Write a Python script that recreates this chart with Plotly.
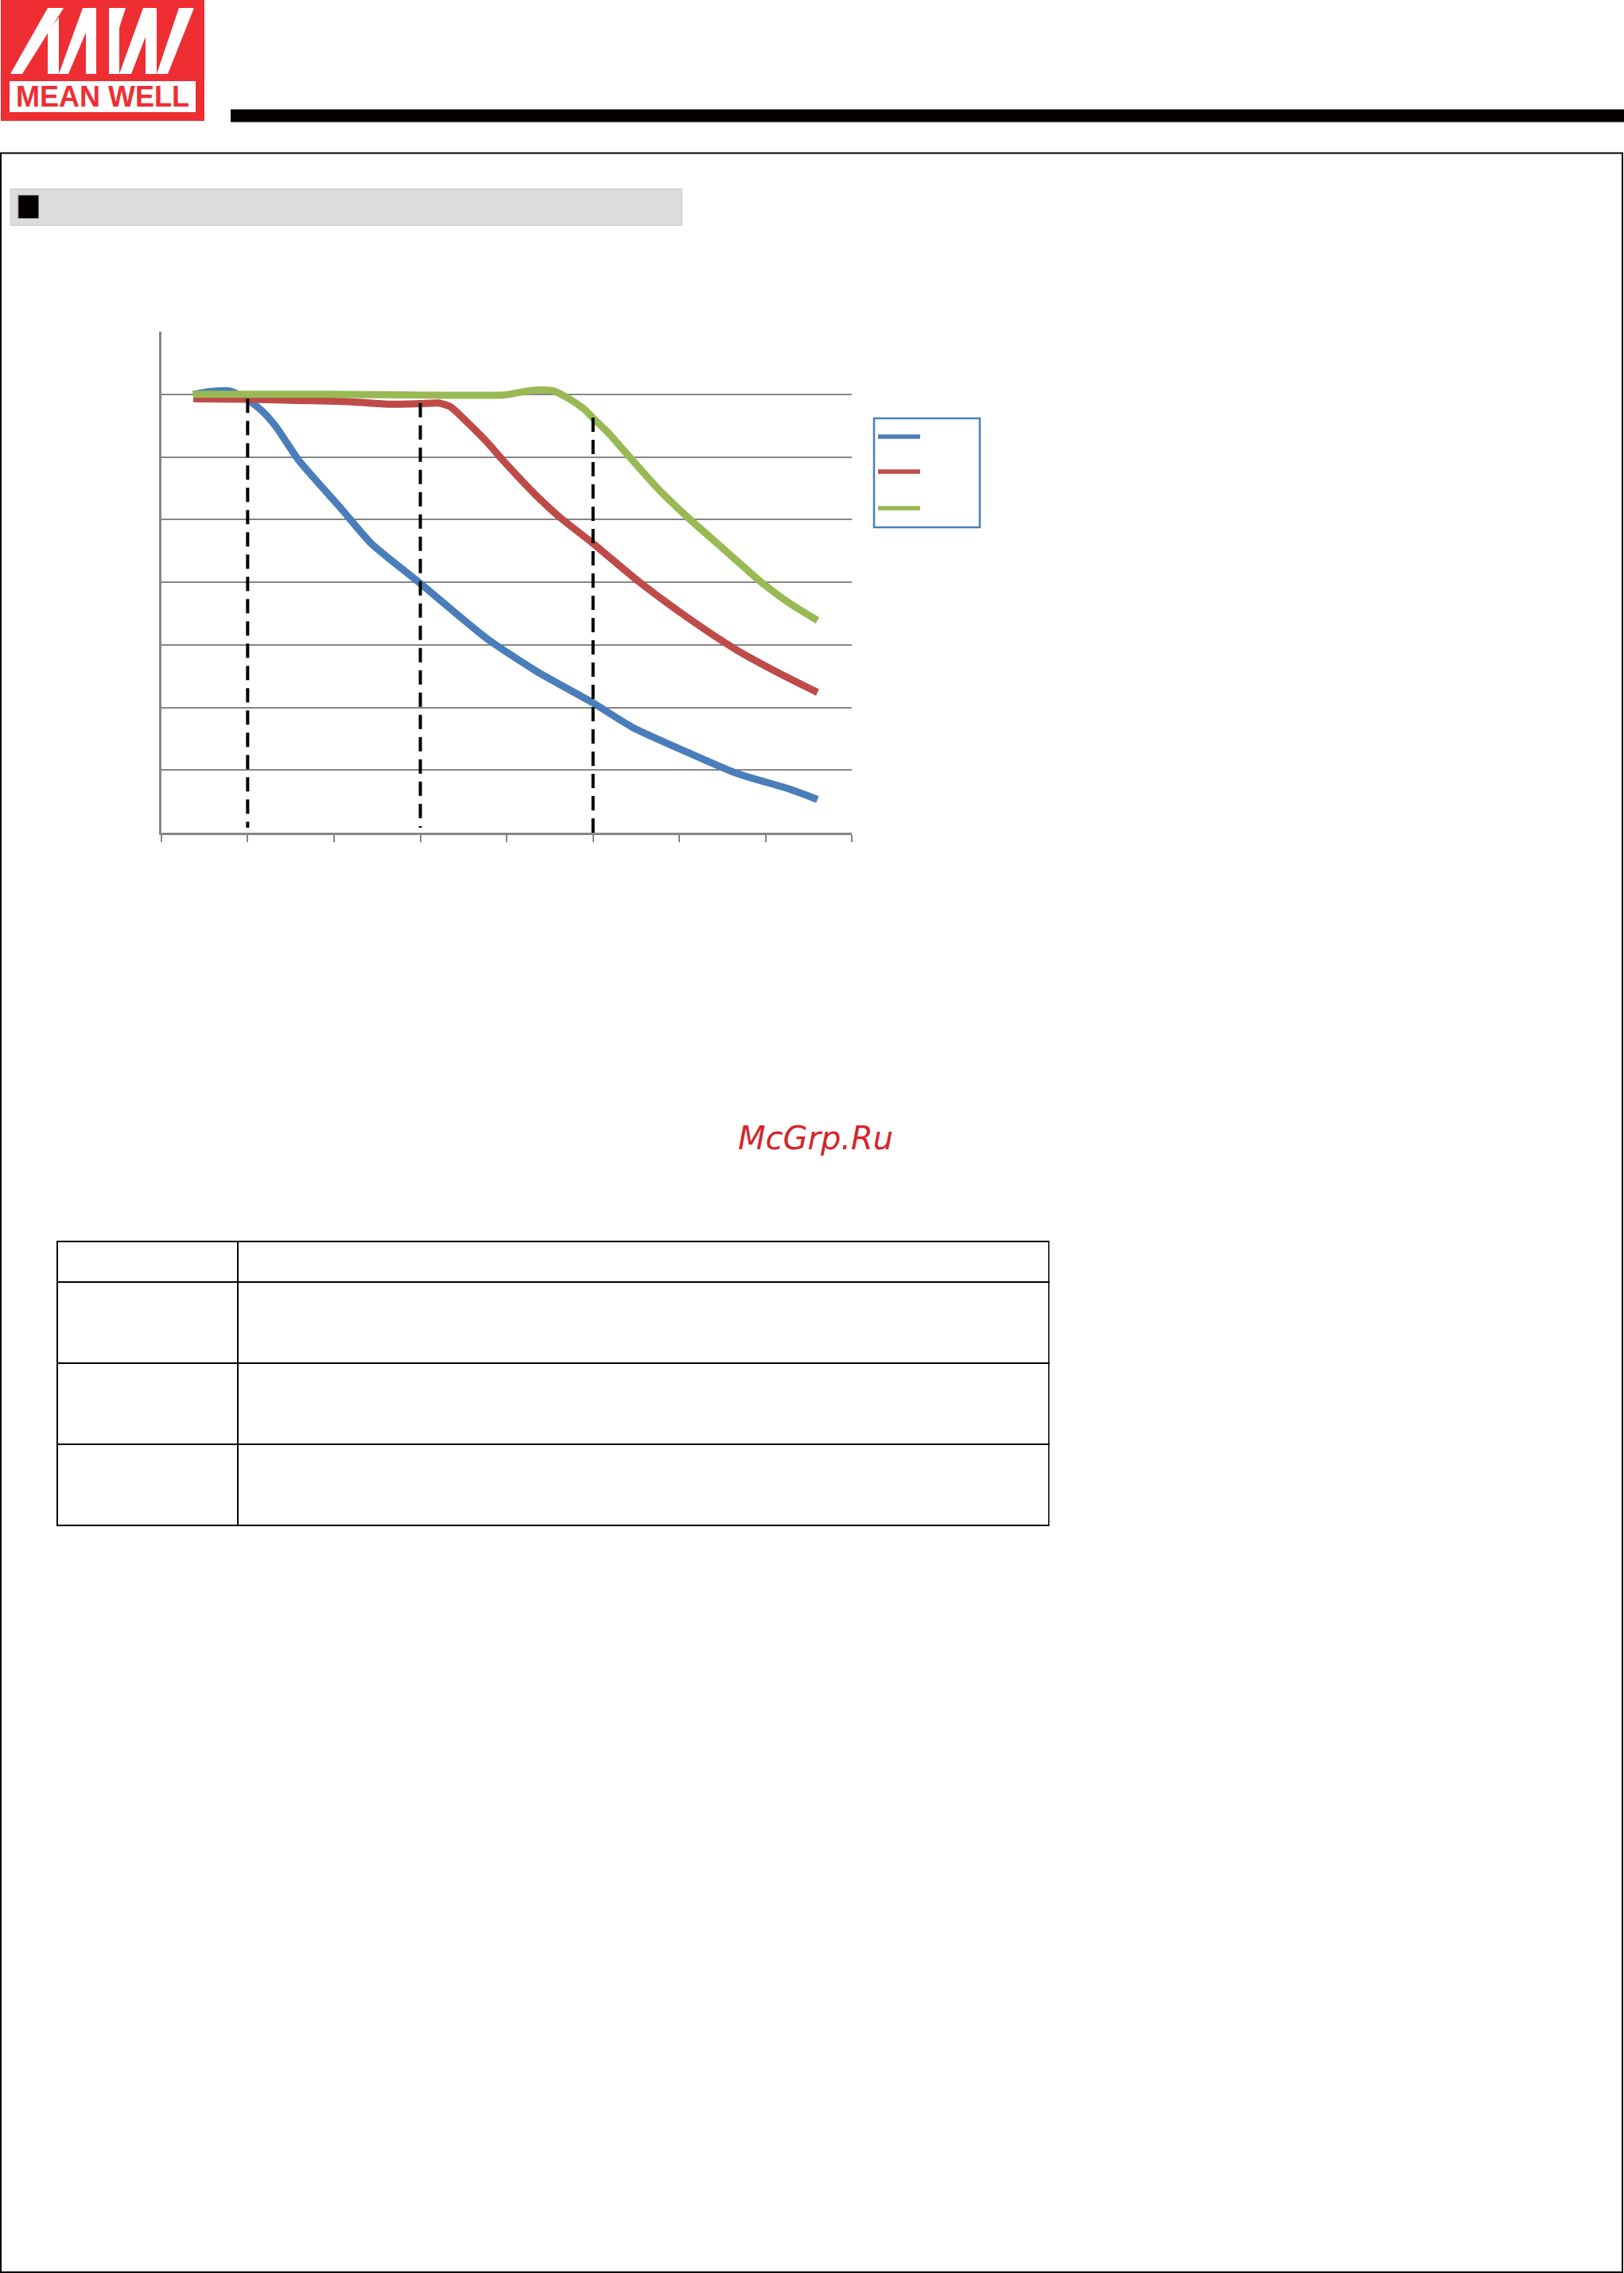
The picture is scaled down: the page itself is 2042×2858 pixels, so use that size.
import plotly.graph_objects as go

W, H = 2042, 2858

# ---- data (axis units = tick / gridline steps) ----
blue_x = [0.37, 0.55, 0.80, 0.99, 1.17, 1.33, 1.59, 2.08, 2.43, 2.99, 3.77, 4.33, 4.99, 5.46, 6.10, 6.66, 7.29, 7.60]
blue_y = [7.00, 7.04, 7.05, 6.92, 6.73, 6.48, 5.95, 5.18, 4.62, 3.99, 3.10, 2.59, 2.08, 1.68, 1.28, 0.95, 0.69, 0.53]

red_x = [0.37, 1.00, 1.66, 2.20, 2.64, 2.99, 3.21, 3.35, 3.56, 3.77, 3.98, 4.33, 4.62, 4.99, 5.53, 6.10, 6.66, 7.15, 7.60]
red_y = [6.93, 6.92, 6.90, 6.88, 6.84, 6.85, 6.86, 6.80, 6.53, 6.24, 5.91, 5.40, 5.03, 4.63, 4.01, 3.43, 2.92, 2.55, 2.24]

green_x = [0.37, 2.00, 3.98, 4.19, 4.40, 4.55, 4.72, 4.90, 5.00, 5.18, 5.39, 5.74, 6.10, 6.52, 6.94, 7.29, 7.60]
green_y = [7.00, 7.00, 6.99, 7.04, 7.07, 7.05, 6.93, 6.76, 6.62, 6.38, 6.05, 5.51, 5.03, 4.52, 4.01, 3.65, 3.39]

# dashed marker lines: x position, top value, bottom value
mark_x = [1, 3, 5]
mark_top = [6.93, 6.86, 6.63]
mark_bottom = [0.08, 0.08, 0.0]

x_ticks = [0, 1, 2, 3, 4, 5, 6, 7, 8]
y_grid = [0, 1, 2, 3, 4, 5, 6, 7, 8]

series_colors = ["#4a7ebb", "#be4b48", "#98b954"]

# table (empty cells as in the reference)
table_col_widths = [227, 1020]
table_rows = 3

# ---- helpers: page pixel -> paper coords ----
def px(x):
    return x / W

def py(y):
    return 1 - y / H

fig = go.Figure()

for xs, ys, c in [(blue_x, blue_y, series_colors[0]),
                  (red_x, red_y, series_colors[1]),
                  (green_x, green_y, series_colors[2])]:
    fig.add_trace(go.Scatter(x=xs, y=ys, mode="lines",
                             line=dict(color=c, width=9, shape="spline", smoothing=0.6),
                             showlegend=False, hoverinfo="skip"))

for mx, t, b in zip(mark_x, mark_top, mark_bottom):
    fig.add_trace(go.Scatter(x=[mx, mx], y=[t, b], mode="lines",
                             line=dict(color="black", width=4, dash="18px,10px"),
                             showlegend=False, hoverinfo="skip"))

fig.add_trace(go.Table(
    domain=dict(x=[px(71.5), px(1319)], y=[py(1920), py(1560.5)]),
    columnwidth=table_col_widths,
    header=dict(values=["", ""], height=51, fill_color="white",
                line=dict(color="black", width=2)),
    cells=dict(values=[[""] * table_rows, [""] * table_rows], height=102,
               fill_color="white", line=dict(color="black", width=2)),
))

grid_col = "#868686"
fig.update_layout(
    width=W, height=H, margin=dict(l=0, r=0, t=0, b=0),
    paper_bgcolor="white", plot_bgcolor="white",
    xaxis=dict(domain=[px(202.8), px(1071.4)], range=[0, 8], tickvals=x_ticks,
               showticklabels=False, ticks="outside", ticklen=9, tickwidth=2,
               tickcolor=grid_col, showgrid=False, zeroline=False,
               showline=True, linecolor=grid_col, linewidth=2.5, fixedrange=True),
    yaxis=dict(domain=[py(1047), py(417)], range=[0, 8], tickvals=y_grid,
               showticklabels=False, ticks="", showgrid=True, gridcolor=grid_col,
               gridwidth=2, zeroline=False, showline=True, linecolor=grid_col,
               linewidth=2.5, fixedrange=True),
)

shapes = []
def rect(x0, y0, x1, y1, fill=None, line_color=None, lw=0):
    shapes.append(dict(type="rect", xref="paper", yref="paper",
                       x0=px(x0), x1=px(x1), y0=py(y1), y1=py(y0),
                       fillcolor=fill if fill else "rgba(0,0,0,0)",
                       line=dict(color=line_color if line_color else "rgba(0,0,0,0)", width=lw)))

def poly(pts, fill):
    d = "M " + " L ".join(f"{px(x):.6f},{py(y):.6f}" for x, y in pts) + " Z"
    shapes.append(dict(type="path", xref="paper", yref="paper", path=d,
                       fillcolor=fill, line=dict(width=0)))

def hline(x0, x1, y, color, lw):
    shapes.append(dict(type="line", xref="paper", yref="paper",
                       x0=px(x0), x1=px(x1), y0=py(y), y1=py(y),
                       line=dict(color=color, width=lw)))

# logo
red = "#ee2e33"
rect(1, 0, 257, 152, fill=red)
rect(12, 102, 246, 141, fill="white")
# M
poly([(13, 93), (28, 93), (80, 10), (60, 10)], "white")
poly([(60, 93), (74, 93), (74, 22), (60, 40)], "white")
poly([(74, 93), (86, 93), (121, 10), (104, 10)], "white")
poly([(108, 93), (121, 93), (121, 10), (108, 10)], "white")
# W
poly([(137, 93), (150, 93), (150, 35), (158, 10), (137, 10)], "white")
poly([(150, 93), (165, 93), (197, 10), (180, 10)], "white")
poly([(183, 93), (197, 93), (197, 10), (183, 45)], "white")
poly([(197, 93), (211, 93), (244, 10), (225, 10)], "white")

# header bar
rect(290, 137.5, 2042, 153.5, fill="#050000")
# page border
rect(1, 192.5, 2040, 2857, line_color="black", lw=2)
# section band
rect(13, 237.5, 857.5, 283.5, fill="#dcdcdc", line_color="#cccccc", lw=1)
rect(23, 245.5, 48.5, 274.5, fill="#050000", line_color="#777777", lw=1)

# legend box
rect(1099, 526, 1232, 663, fill="white", line_color="#4a7ebb", lw=2.5)
for yy, c in zip([549, 593, 639], series_colors):
    hline(1104, 1157, yy, c, 5.5)

fig.update_layout(shapes=shapes)

fig.add_annotation(xref="paper", yref="paper", x=px(129), y=py(121.5),
                   text="MEAN WELL", showarrow=False, xanchor="center", yanchor="middle",
                   font=dict(family="Liberation Sans", size=36, color=red, weight="bold"))
fig.add_annotation(xref="paper", yref="paper", x=px(926), y=py(1431),
                   text="McGrp.Ru", showarrow=False, xanchor="left", yanchor="middle",
                   font=dict(family="DejaVu Sans", size=40, color="#d7242a", style="italic"))

fig.write_html("out.html", config={"displayModeBar": False, "staticPlot": True},
               post_script="document.body.style.margin='0';document.body.style.overflow='hidden';")
